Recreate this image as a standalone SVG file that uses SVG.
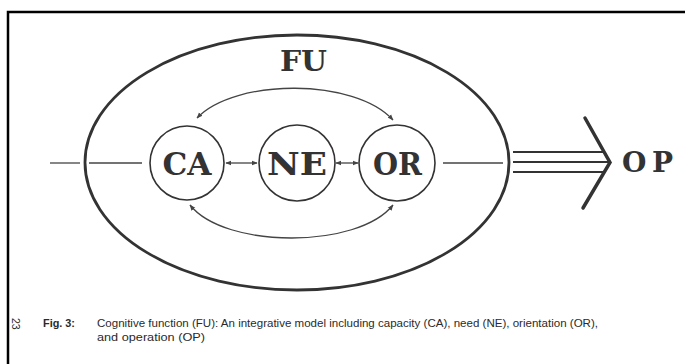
<svg xmlns="http://www.w3.org/2000/svg" width="685" height="364" viewBox="0 0 685 364">
<style>
.lbl{font-family:"DejaVu Serif","Liberation Serif",serif;font-weight:bold;fill:#333;text-anchor:middle}
.node{fill:none;stroke:#333;stroke-width:1.6}
.thin{fill:none;stroke:#444;stroke-width:1.3}
.cap{font-family:"Liberation Sans",Arial,sans-serif;font-size:10.5px;fill:#2a2a2a}
</style>
<defs>
<marker id="ah" viewBox="0 0 10 10" refX="9" refY="5" markerWidth="6" markerHeight="6" markerUnits="userSpaceOnUse" orient="auto-start-reverse">
<path d="M0,1 L10,5 L0,9 z" fill="#444"/>
</marker>
</defs>
<rect width="685" height="364" fill="#fff"/>
<path d="M8,364 V12 H685" fill="none" stroke="#000" stroke-width="2.5"/>
<g id="FU">
<ellipse cx="297" cy="162.5" rx="212" ry="127.5" fill="none" stroke="#333" stroke-width="2.8"/>
<text class="lbl" x="303.5" y="71" font-size="27" textLength="47" lengthAdjust="spacingAndGlyphs">FU</text>
</g>
<g id="CA">
<circle class="node" cx="187" cy="163" r="37"/>
<text class="lbl" x="187" y="175" font-size="32" textLength="49" lengthAdjust="spacingAndGlyphs">CA</text>
</g>
<g id="NE">
<circle class="node" cx="297" cy="163" r="38"/>
<text class="lbl" x="297" y="175" font-size="32" textLength="60" lengthAdjust="spacingAndGlyphs">NE</text>
</g>
<g id="OR">
<circle class="node" cx="397" cy="163" r="38"/>
<text class="lbl" x="397.5" y="175" font-size="32" textLength="49" lengthAdjust="spacingAndGlyphs">OR</text>
</g>
<g id="OP">
<text class="lbl" x="647.5" y="172" font-size="28" textLength="51" lengthAdjust="spacing">OP</text>
</g>
<g id="connectors">
<line class="thin" x1="50" y1="163" x2="80" y2="163"/>
<line class="thin" x1="89" y1="163" x2="142" y2="163"/>
<line class="thin" x1="226" y1="163" x2="257" y2="163" marker-start="url(#ah)" marker-end="url(#ah)"/>
<line class="thin" x1="336" y1="163" x2="358" y2="163" marker-start="url(#ah)" marker-end="url(#ah)"/>
<line class="thin" x1="443" y1="163" x2="503" y2="163"/>
<path class="thin" d="M197,118 C235,78 355,78 393,120" marker-start="url(#ah)" marker-end="url(#ah)"/>
<path class="thin" d="M190,205 C225,249 358,249 393,205" marker-start="url(#ah)" marker-end="url(#ah)"/>
<g stroke="#333" stroke-width="2.2">
<line x1="513" y1="152" x2="604" y2="152"/>
<line x1="513" y1="162" x2="608" y2="162"/>
<line x1="513" y1="172" x2="604" y2="172"/>
</g>
<path d="M585,118 L610,162.5 L583,208" fill="none" stroke="#333" stroke-width="3.5" stroke-linecap="round" stroke-linejoin="miter"/>
</g>
<text class="cap" x="43" y="327" font-weight="bold" textLength="32" lengthAdjust="spacingAndGlyphs">Fig. 3:</text>
<text class="cap" x="97" y="327" textLength="501" lengthAdjust="spacingAndGlyphs">Cognitive function (FU): An integrative model including capacity (CA), need (NE), orientation (OR),</text>
<text class="cap" x="97" y="341" textLength="108" lengthAdjust="spacingAndGlyphs">and operation (OP)</text>
<text class="cap" x="0" y="0" font-size="10" transform="translate(12,318) rotate(90)">23</text>
</svg>
